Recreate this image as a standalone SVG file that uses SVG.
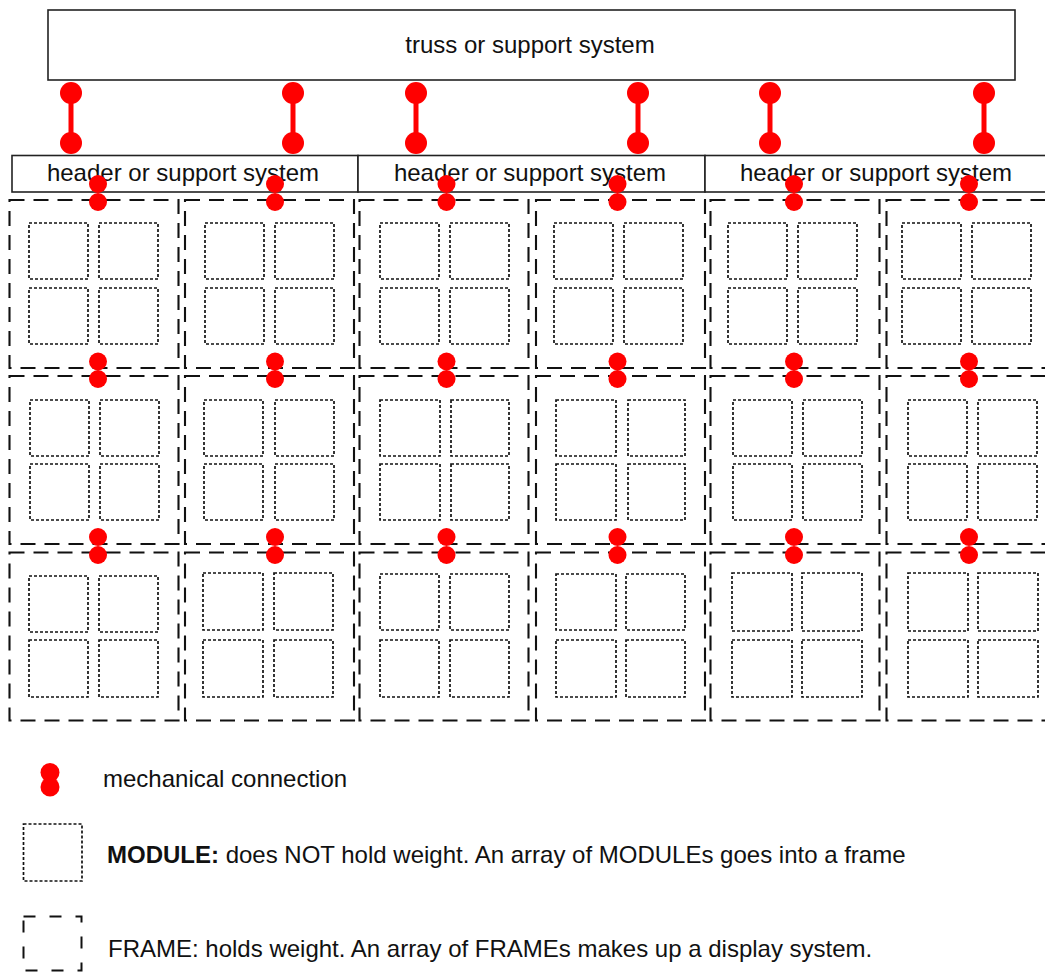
<svg xmlns="http://www.w3.org/2000/svg" width="1045" height="973" viewBox="0 0 1045 973">
<style>
.box{fill:#fff;stroke:#222;stroke-width:1.6}
.frame{fill:none;stroke:#111;stroke-width:2.1;stroke-dasharray:15 9}
.lframe{fill:none;stroke:#111;stroke-width:2;stroke-dasharray:12 14}
.module{fill:none;stroke:#111;stroke-width:1.7;stroke-dasharray:3 2}
.lbl{font-family:"Liberation Sans",Arial,Helvetica,sans-serif;font-size:24px;fill:#111}
.ctr{text-anchor:middle}
.red{fill:#ff0000}
.rod{stroke:#ff0000;stroke-width:5}
</style>
<rect width="1045" height="973" fill="#fff"/>

<g id="truss">
<rect class="box" x="48" y="10" width="967" height="70"/>
<text class="lbl ctr" x="530" y="53">truss or support system</text>
</g>

<g id="header-1">
<rect class="box" x="12" y="155.5" width="346" height="36.5"/>
<text class="lbl ctr" x="183" y="180.5" font-size="23.8">header or support system</text>
</g>
<g id="header-2">
<rect class="box" x="358" y="155.5" width="347" height="36.5"/>
<text class="lbl ctr" x="530" y="180.5" font-size="23.8">header or support system</text>
</g>
<g id="header-3">
<rect class="box" x="705" y="155.5" width="347" height="36.5"/>
<text class="lbl ctr" x="876" y="180.5" font-size="23.8">header or support system</text>
</g>

<!-- Row 1 -->
<g id="frame-r1c1">
<rect class="frame" x="9.5" y="200" width="169" height="168"/>
<rect class="module" x="29" y="223" width="59" height="56"/><rect class="module" x="99" y="223" width="59" height="56"/>
<rect class="module" x="29" y="288" width="59" height="56"/><rect class="module" x="99" y="288" width="59" height="56"/>
</g>
<g id="frame-r1c2">
<rect class="frame" x="185" y="200" width="169" height="168"/>
<rect class="module" x="205" y="223" width="59" height="56"/><rect class="module" x="275" y="223" width="59" height="56"/>
<rect class="module" x="205" y="288" width="59" height="56"/><rect class="module" x="275" y="288" width="59" height="56"/>
</g>
<g id="frame-r1c3">
<rect class="frame" x="359.5" y="200" width="169" height="168"/>
<rect class="module" x="380" y="223" width="59" height="56"/><rect class="module" x="450" y="223" width="59" height="56"/>
<rect class="module" x="380" y="288" width="59" height="56"/><rect class="module" x="450" y="288" width="59" height="56"/>
</g>
<g id="frame-r1c4">
<rect class="frame" x="536" y="200" width="169" height="168"/>
<rect class="module" x="554" y="223" width="59" height="56"/><rect class="module" x="624" y="223" width="59" height="56"/>
<rect class="module" x="554" y="288" width="59" height="56"/><rect class="module" x="624" y="288" width="59" height="56"/>
</g>
<g id="frame-r1c5">
<rect class="frame" x="710.5" y="200" width="169" height="168"/>
<rect class="module" x="728" y="223" width="59" height="56"/><rect class="module" x="798" y="223" width="59" height="56"/>
<rect class="module" x="728" y="288" width="59" height="56"/><rect class="module" x="798" y="288" width="59" height="56"/>
</g>
<g id="frame-r1c6">
<rect class="frame" x="886.5" y="200" width="169" height="168"/>
<rect class="module" x="902" y="223" width="59" height="56"/><rect class="module" x="972" y="223" width="59" height="56"/>
<rect class="module" x="902" y="288" width="59" height="56"/><rect class="module" x="972" y="288" width="59" height="56"/>
</g>

<!-- Row 2 -->
<g id="frame-r2c1">
<rect class="frame" x="9.5" y="376" width="169" height="168"/>
<rect class="module" x="30" y="400" width="59" height="56"/><rect class="module" x="100" y="400" width="59" height="56"/>
<rect class="module" x="30" y="464" width="59" height="56"/><rect class="module" x="100" y="464" width="59" height="56"/>
</g>
<g id="frame-r2c2">
<rect class="frame" x="185" y="376" width="169" height="168"/>
<rect class="module" x="204" y="400" width="59" height="56"/><rect class="module" x="275" y="400" width="59" height="56"/>
<rect class="module" x="204" y="464" width="59" height="56"/><rect class="module" x="275" y="464" width="59" height="56"/>
</g>
<g id="frame-r2c3">
<rect class="frame" x="359.5" y="376" width="169" height="168"/>
<rect class="module" x="380" y="400" width="60" height="56"/><rect class="module" x="451" y="400" width="58" height="56"/>
<rect class="module" x="380" y="464" width="60" height="56"/><rect class="module" x="451" y="464" width="58" height="56"/>
</g>
<g id="frame-r2c4">
<rect class="frame" x="536" y="376" width="169" height="168"/>
<rect class="module" x="556" y="400" width="60" height="56"/><rect class="module" x="628" y="400" width="57" height="56"/>
<rect class="module" x="556" y="464" width="60" height="56"/><rect class="module" x="628" y="464" width="57" height="56"/>
</g>
<g id="frame-r2c5">
<rect class="frame" x="710.5" y="376" width="169" height="168"/>
<rect class="module" x="733" y="400" width="59" height="56"/><rect class="module" x="803" y="400" width="59" height="56"/>
<rect class="module" x="733" y="464" width="59" height="56"/><rect class="module" x="803" y="464" width="59" height="56"/>
</g>
<g id="frame-r2c6">
<rect class="frame" x="886.5" y="376" width="169" height="168"/>
<rect class="module" x="908" y="400" width="59" height="56"/><rect class="module" x="978" y="400" width="59" height="56"/>
<rect class="module" x="908" y="464" width="59" height="56"/><rect class="module" x="978" y="464" width="59" height="56"/>
</g>

<!-- Row 3 -->
<g id="frame-r3c1">
<rect class="frame" x="9.5" y="552.5" width="169" height="168"/>
<rect class="module" x="29" y="576" width="59" height="56"/><rect class="module" x="99" y="576" width="59" height="56"/>
<rect class="module" x="29" y="640" width="59" height="57"/><rect class="module" x="99" y="640" width="59" height="57"/>
</g>
<g id="frame-r3c2">
<rect class="frame" x="185" y="552.5" width="169" height="168"/>
<rect class="module" x="203" y="573" width="60" height="57"/><rect class="module" x="274" y="573" width="59" height="57"/>
<rect class="module" x="203" y="640" width="60" height="57"/><rect class="module" x="274" y="640" width="59" height="57"/>
</g>
<g id="frame-r3c3">
<rect class="frame" x="359.5" y="552.5" width="169" height="168"/>
<rect class="module" x="380" y="574" width="59" height="56"/><rect class="module" x="450" y="574" width="59" height="56"/>
<rect class="module" x="380" y="640" width="59" height="57"/><rect class="module" x="450" y="640" width="59" height="57"/>
</g>
<g id="frame-r3c4">
<rect class="frame" x="536" y="552.5" width="169" height="168"/>
<rect class="module" x="556" y="574" width="60" height="56"/><rect class="module" x="626" y="574" width="59" height="56"/>
<rect class="module" x="556" y="640" width="60" height="57"/><rect class="module" x="626" y="640" width="59" height="57"/>
</g>
<g id="frame-r3c5">
<rect class="frame" x="710.5" y="552.5" width="169" height="168"/>
<rect class="module" x="732" y="573" width="60" height="58"/><rect class="module" x="802" y="573" width="60" height="58"/>
<rect class="module" x="732" y="640" width="60" height="57"/><rect class="module" x="802" y="640" width="60" height="57"/>
</g>
<g id="frame-r3c6">
<rect class="frame" x="886.5" y="552.5" width="169" height="168"/>
<rect class="module" x="908" y="573" width="60" height="58"/><rect class="module" x="978" y="573" width="60" height="58"/>
<rect class="module" x="908" y="640" width="60" height="57"/><rect class="module" x="978" y="640" width="60" height="57"/>
</g>

<g id="connectors">
<g id="truss-links">
<line class="rod" x1="71" y1="93" x2="71" y2="143"/><circle class="red" cx="71" cy="93" r="11"/><circle class="red" cx="71" cy="143" r="11"/>
<line class="rod" x1="293" y1="93" x2="293" y2="143"/><circle class="red" cx="293" cy="93" r="11"/><circle class="red" cx="293" cy="143" r="11"/>
<line class="rod" x1="416" y1="93" x2="416" y2="143"/><circle class="red" cx="416" cy="93" r="11"/><circle class="red" cx="416" cy="143" r="11"/>
<line class="rod" x1="638" y1="93" x2="638" y2="143"/><circle class="red" cx="638" cy="93" r="11"/><circle class="red" cx="638" cy="143" r="11"/>
<line class="rod" x1="770" y1="93" x2="770" y2="143"/><circle class="red" cx="770" cy="93" r="11"/><circle class="red" cx="770" cy="143" r="11"/>
<line class="rod" x1="984" y1="93" x2="984" y2="143"/><circle class="red" cx="984" cy="93" r="11"/><circle class="red" cx="984" cy="143" r="11"/>
</g>
<g id="frame-links">
<circle class="red" cx="98" cy="184" r="9"/><circle class="red" cx="98" cy="202" r="9"/>
<circle class="red" cx="275" cy="184" r="9"/><circle class="red" cx="275" cy="202" r="9"/>
<circle class="red" cx="446.5" cy="184" r="9"/><circle class="red" cx="446.5" cy="202" r="9"/>
<circle class="red" cx="617.5" cy="184" r="9"/><circle class="red" cx="617.5" cy="202" r="9"/>
<circle class="red" cx="794" cy="184" r="9"/><circle class="red" cx="794" cy="202" r="9"/>
<circle class="red" cx="969" cy="184" r="9"/><circle class="red" cx="969" cy="202" r="9"/>

<circle class="red" cx="98" cy="361.5" r="9"/><circle class="red" cx="98" cy="379" r="9"/>
<circle class="red" cx="275" cy="361.5" r="9"/><circle class="red" cx="275" cy="379" r="9"/>
<circle class="red" cx="446.5" cy="361.5" r="9"/><circle class="red" cx="446.5" cy="379" r="9"/>
<circle class="red" cx="617.5" cy="361.5" r="9"/><circle class="red" cx="617.5" cy="379" r="9"/>
<circle class="red" cx="794" cy="361.5" r="9"/><circle class="red" cx="794" cy="379" r="9"/>
<circle class="red" cx="969" cy="361.5" r="9"/><circle class="red" cx="969" cy="379" r="9"/>

<circle class="red" cx="98" cy="537" r="9"/><circle class="red" cx="98" cy="555" r="9"/>
<circle class="red" cx="275" cy="537" r="9"/><circle class="red" cx="275" cy="555" r="9"/>
<circle class="red" cx="446.5" cy="537" r="9"/><circle class="red" cx="446.5" cy="555" r="9"/>
<circle class="red" cx="617.5" cy="537" r="9"/><circle class="red" cx="617.5" cy="555" r="9"/>
<circle class="red" cx="794" cy="537" r="9"/><circle class="red" cx="794" cy="555" r="9"/>
<circle class="red" cx="969" cy="537" r="9"/><circle class="red" cx="969" cy="555" r="9"/>
</g>
</g>

<g id="legend-connection">
<circle class="red" cx="50" cy="772.5" r="9.5"/><circle class="red" cx="50" cy="787" r="9.5"/>
<text class="lbl" x="103" y="787" fill="#222">mechanical connection</text>
</g>
<g id="legend-module">
<rect class="module" x="23.5" y="824" width="58.5" height="57"/>
<text class="lbl" x="107" y="863"><tspan font-weight="bold">MODULE:</tspan> does NOT hold weight. An array of MODULEs goes into a frame</text>
</g>
<g id="legend-frame">
<rect class="lframe" x="23.5" y="916.5" width="58" height="54"/>
<text class="lbl" x="108" y="957">FRAME: holds weight. An array of FRAMEs makes up a display system.</text>
</g>
</svg>
